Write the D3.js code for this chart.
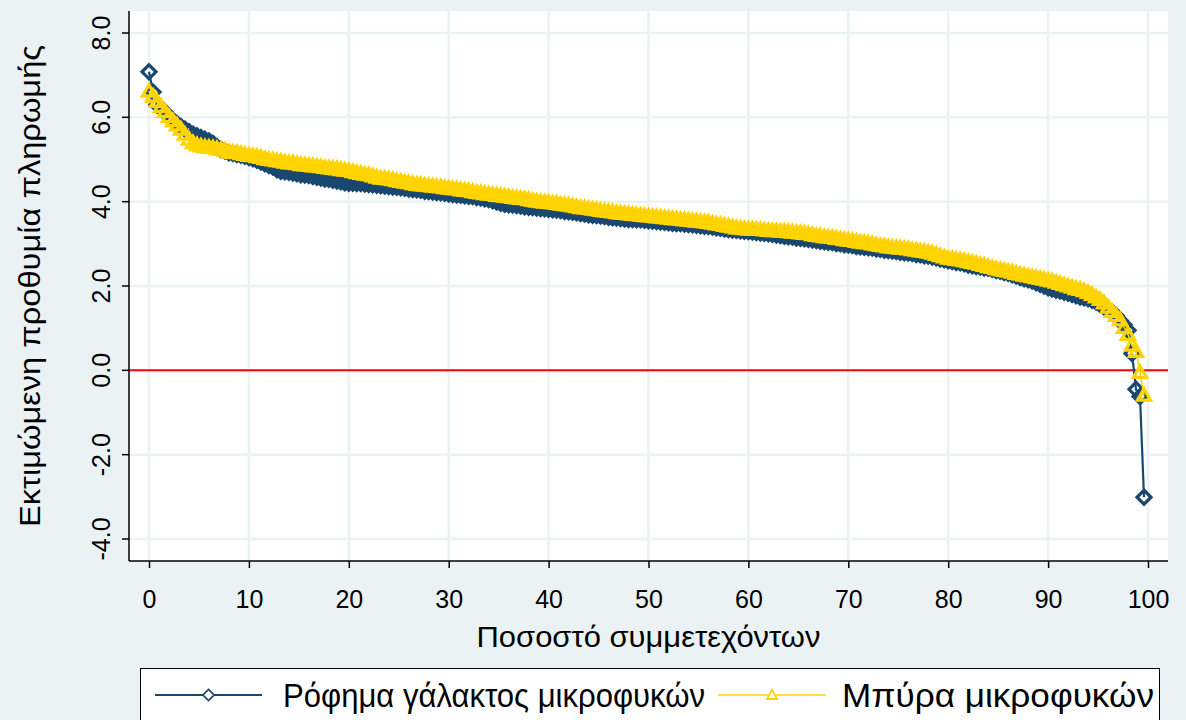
<!DOCTYPE html>
<html><head><meta charset="utf-8">
<script src="https://cdn.jsdelivr.net/npm/d3@7"></script>
<style>body{margin:0;background:#eaf2f3;overflow:hidden}</style>
</head><body><svg id="c" width="1186" height="720"></svg>
<script>
// ---- data ----
const xTicks = [0,10,20,30,40,50,60,70,80,90,100];
const yTicks = [-4,-2,0,2,4,6,8];
const yTickLabels = ["-4.0","-2.0","0.0","2.0","4.0","6.0","8.0"];
const seriesNames = ["Ρόφημα γάλακτος μικροφυκών","Μπύρα μικροφυκών"];
const yTitle = "Εκτιμώμενη προθυμία πληρωμής";
const xTitle = "Ποσοστό συμμετεχόντων";
const refLine = 0;
// sorted estimates, one per participant (250 participants, percentile rank = i/250*100)
const milkDrink = [
7.08,6.60,6.30,6.22,6.12,6.02,5.93,5.85,5.78,5.72,
5.66,5.60,5.56,5.52,5.48,5.44,5.38,5.30,5.24,5.20,
5.16,5.14,5.12,5.10,5.08,5.05,5.02,4.98,4.94,4.90,
4.86,4.82,4.76,4.72,4.71,4.70,4.68,4.66,4.64,4.63,
4.62,4.60,4.58,4.56,4.54,4.53,4.51,4.49,4.47,4.45,
4.44,4.44,4.43,4.43,4.42,4.41,4.40,4.39,4.38,4.37,
4.36,4.35,4.34,4.33,4.32,4.30,4.29,4.28,4.27,4.25,
4.24,4.23,4.22,4.21,4.20,4.18,4.17,4.16,4.15,4.14,
4.13,4.12,4.10,4.09,4.07,4.05,4.02,3.99,3.96,3.94,
3.93,3.92,3.91,3.90,3.88,3.87,3.86,3.85,3.84,3.83,
3.82,3.81,3.80,3.79,3.77,3.76,3.75,3.74,3.72,3.71,
3.69,3.68,3.67,3.66,3.65,3.63,3.62,3.61,3.60,3.59,
3.58,3.58,3.57,3.57,3.56,3.55,3.54,3.53,3.52,3.51,
3.50,3.49,3.48,3.48,3.47,3.46,3.45,3.44,3.43,3.42,
3.41,3.40,3.38,3.37,3.35,3.34,3.33,3.32,3.31,3.30,
3.29,3.28,3.27,3.26,3.25,3.24,3.23,3.21,3.20,3.18,
3.17,3.16,3.14,3.13,3.12,3.11,3.09,3.08,3.06,3.05,
3.04,3.03,3.01,3.00,2.98,2.97,2.96,2.94,2.93,2.92,
2.91,2.90,2.88,2.87,2.85,2.84,2.83,2.82,2.80,2.79,
2.78,2.77,2.75,2.74,2.72,2.71,2.69,2.67,2.64,2.62,
2.60,2.58,2.56,2.55,2.53,2.50,2.48,2.46,2.45,2.43,
2.42,2.40,2.37,2.35,2.32,2.30,2.27,2.24,2.20,2.17,
2.15,2.12,2.08,2.04,2.00,1.96,1.93,1.90,1.88,1.85,
1.83,1.80,1.77,1.74,1.72,1.70,1.66,1.62,1.56,1.50,
1.45,1.38,1.30,1.18,1.08,0.95,0.40,-0.45,-0.62,-3.01
];
const beer = [
6.62,6.50,6.38,6.26,6.14,6.02,5.92,5.82,5.72,5.60,
5.48,5.40,5.35,5.32,5.30,5.29,5.28,5.26,5.24,5.22,
5.18,5.17,5.16,5.14,5.12,5.10,5.09,5.07,5.05,5.02,
5.00,4.99,4.97,4.96,4.94,4.92,4.92,4.90,4.88,4.87,
4.86,4.85,4.84,4.83,4.81,4.80,4.79,4.78,4.76,4.75,
4.74,4.71,4.69,4.67,4.65,4.64,4.61,4.58,4.56,4.55,
4.54,4.52,4.50,4.48,4.46,4.45,4.43,4.41,4.40,4.39,
4.38,4.37,4.36,4.35,4.33,4.32,4.31,4.30,4.28,4.27,
4.26,4.24,4.22,4.21,4.19,4.18,4.17,4.15,4.14,4.13,
4.12,4.10,4.09,4.08,4.07,4.05,4.03,4.01,4.00,3.99,
3.98,3.97,3.96,3.94,3.93,3.92,3.90,3.88,3.86,3.85,
3.84,3.82,3.81,3.79,3.78,3.77,3.76,3.74,3.73,3.72,
3.71,3.70,3.69,3.68,3.67,3.66,3.65,3.64,3.63,3.62,
3.61,3.60,3.59,3.58,3.57,3.56,3.55,3.54,3.53,3.52,
3.51,3.49,3.47,3.46,3.44,3.42,3.40,3.38,3.37,3.36,
3.35,3.35,3.34,3.34,3.33,3.32,3.31,3.31,3.30,3.30,
3.29,3.28,3.27,3.26,3.25,3.24,3.22,3.20,3.19,3.17,
3.16,3.15,3.13,3.12,3.10,3.09,3.08,3.06,3.04,3.03,
3.02,3.00,2.98,2.96,2.95,2.93,2.92,2.91,2.90,2.89,
2.88,2.86,2.85,2.83,2.82,2.80,2.78,2.75,2.72,2.69,
2.66,2.65,2.63,2.62,2.60,2.58,2.56,2.54,2.51,2.49,
2.46,2.44,2.41,2.39,2.37,2.35,2.33,2.30,2.28,2.26,
2.24,2.22,2.20,2.18,2.16,2.14,2.12,2.09,2.06,2.03,
2.00,1.97,1.94,1.92,1.89,1.85,1.80,1.74,1.68,1.60,
1.50,1.40,1.30,1.20,1.02,0.85,0.60,0.45,-0.05,-0.59
];

// ---- drawing ----
const BG = "#eaf2f3", BLUE = "#1a476f", GOLD = "#ffd400";
const FONT = "'Liberation Sans', Arial, sans-serif";
const svg = d3.select("#c");
svg.append("rect").attr("width",1186).attr("height",720).attr("fill",BG);

const plot = {left:129, right:1168, top:11, bottom:561};
const x = d3.scaleLinear().domain([0,100]).range([149,1148]);
const y = d3.scaleLinear().domain([-4,8]).range([539,33]);

svg.append("rect").attr("x",plot.left).attr("y",plot.top)
  .attr("width",plot.right-plot.left).attr("height",plot.bottom-plot.top).attr("fill","#fff");

// grid
const g = svg.append("g");
g.selectAll(".gx").data(xTicks).enter().append("line")
  .attr("x1",d=>x(d)).attr("x2",d=>x(d)).attr("y1",plot.top).attr("y2",plot.bottom)
  .attr("stroke",BG).attr("stroke-width",2.5);
g.selectAll(".gy").data(yTicks).enter().append("line")
  .attr("y1",d=>y(d)).attr("y2",d=>y(d)).attr("x1",plot.left).attr("x2",plot.right)
  .attr("stroke",BG).attr("stroke-width",2.5);

// reference line
svg.append("line").attr("x1",plot.left).attr("x2",plot.right)
  .attr("y1",y(refLine)).attr("y2",y(refLine)).attr("stroke","#ff0000").attr("stroke-width",2);

// axes
const xAxis = d3.axisBottom(x).tickValues(xTicks).tickSize(7).tickPadding(22).tickFormat(d3.format("d"));
const yAxis = d3.axisLeft(y).tickValues(yTicks).tickSize(7).tickFormat((d,i)=>yTickLabels[i]);
const gx = svg.append("g").attr("transform",`translate(0,${plot.bottom})`).call(xAxis);
gx.select(".domain").attr("d",`M${plot.left},0H${plot.right}`);
gx.selectAll("text").attr("font-family",FONT).attr("font-size",25).attr("fill","#000");
const gy = svg.append("g").attr("transform",`translate(${plot.left},0)`).call(yAxis);
gy.select(".domain").attr("d",`M0,${plot.top}V${plot.bottom}`);
gy.selectAll("text").attr("font-family",FONT).attr("font-size",25).attr("fill","#000")
  .attr("text-anchor","middle").attr("dy",0)
  .attr("transform",d=>`translate(${-19},${y(d)}) rotate(-90)`).attr("x",0).attr("y",0);
gy.selectAll(".tick").attr("transform",null);
gy.selectAll(".tick line").attr("y1",d=>y(d)).attr("y2",d=>y(d));
[gx,gy].forEach(a=>{a.selectAll("line,path").attr("stroke","#000").attr("stroke-width",1.5);});

// titles
svg.append("text").attr("x",x(50)).attr("y",647).attr("text-anchor","middle")
  .attr("font-family",FONT).attr("font-size",29).attr("textLength",344).attr("lengthAdjust","spacingAndGlyphs").text(xTitle);
svg.append("text").attr("transform",`translate(40,${(plot.top+plot.bottom)/2}) rotate(-90)`)
  .attr("text-anchor","middle").attr("font-family",FONT).attr("font-size",29)
  .attr("textLength",482).attr("lengthAdjust","spacingAndGlyphs").text(yTitle);

// series
const diamond = "M0,-7L7,0L0,7L-7,0Z";
const tri = "M0,-6.5L6.5,5L-6.5,5Z";
const line = d3.line().x((d,i)=>x(i/250*100)).y(d=>y(d));
function drawSeries(vals,color,shape,lw){
  const s = svg.append("g");
  s.append("path").attr("d",line(vals)).attr("fill","none").attr("stroke",color).attr("stroke-width",lw);
  s.selectAll("path.m").data(vals).enter().append("path").attr("class","m")
    .attr("d",shape).attr("transform",(d,i)=>`translate(${x(i/250*100)},${y(d)})`)
    .attr("fill","none").attr("stroke",color).attr("stroke-width",3.2);
}
drawSeries(milkDrink,BLUE,diamond,2.2);
drawSeries(beer,GOLD,tri,1.6);

// legend
const lg = svg.append("g");
lg.append("rect").attr("x",140.5).attr("y",668.5).attr("width",1019).attr("height",80)
  .attr("fill","#fff").attr("stroke","#000").attr("stroke-width",1);
const items = [
  {name:seriesNames[0],color:BLUE,shape:diamond,x1:155,x2:262,tx:283,tl:422,lw:2.2},
  {name:seriesNames[1],color:GOLD,shape:tri,x1:718,x2:826,tx:842,tl:312,lw:1.5}
];
items.forEach(it=>{
  lg.append("line").attr("x1",it.x1).attr("x2",it.x2).attr("y1",695).attr("y2",695)
    .attr("stroke",it.color).attr("stroke-width",it.lw);
  lg.append("path").attr("d",it.shape).attr("transform",`translate(${(it.x1+it.x2)/2},695) scale(0.8)`)
    .attr("fill","#fff").attr("stroke",it.color).attr("stroke-width",2.2);
  lg.append("text").attr("x",it.tx).attr("y",707).attr("font-family",FONT).attr("font-size",33)
    .attr("textLength",it.tl).attr("lengthAdjust","spacingAndGlyphs").text(it.name);
});
</script></body></html>
